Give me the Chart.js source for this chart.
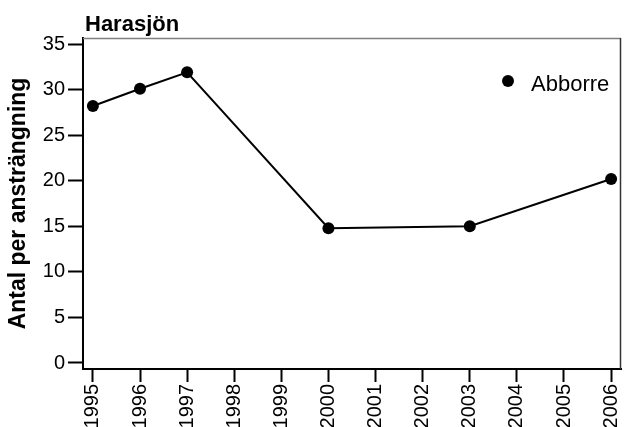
<!DOCTYPE html>
<html><head><meta charset="utf-8">
<script src="https://cdn.jsdelivr.net/npm/chart.js@4"></script>
<style>html,body{margin:0;padding:0;background:#fff;overflow:hidden}</style>
</head><body>
<div style="width:624px;height:427px"><canvas id="c" width="624" height="427"></canvas></div>
<script>
const chartTitle = 'Harasjön';
const yAxisTitle = 'Antal per ansträngning';
const seriesName = 'Abborre';
const years = [1995, 1996, 1997, 2000, 2003, 2006];
const values = [28.2, 30.1, 31.9, 14.8, 15.0, 20.2];
const xTickValues = [1995, 1996, 1997, 1998, 1999, 2000, 2001, 2002, 2003, 2004, 2005, 2006];
const yTickValues = [0, 5, 10, 15, 20, 25, 30, 35];

const FONT = "'Liberation Sans', Arial, sans-serif";

const decorPlugin = {
  id: 'decor',
  afterDraw(chart) {
    const ctx = chart.ctx, a = chart.chartArea;
    ctx.save();
    // top & right frame
    ctx.strokeStyle = '#808080';
    ctx.lineWidth = 1.5;
    ctx.beginPath();
    ctx.moveTo(a.left, a.top + 0.5);
    ctx.lineTo(a.right, a.top + 0.5);
    ctx.stroke();
    ctx.strokeStyle = '#333';
    ctx.beginPath();
    ctx.moveTo(a.right - 0.5, a.top);
    ctx.lineTo(a.right - 0.5, a.bottom);
    ctx.stroke();
    // title
    ctx.fillStyle = '#000';
    ctx.font = "bold 22px " + FONT;
    ctx.textAlign = 'left';
    ctx.textBaseline = 'alphabetic';
    ctx.fillText(chartTitle, a.left + 2, 31);
    // legend
    const ds = chart.data.datasets[0];
    const lx = a.right - 113, ly = a.top + 43;
    ctx.beginPath();
    ctx.arc(lx, ly, 6, 0, Math.PI * 2);
    ctx.fillStyle = ds.pointBackgroundColor;
    ctx.fill();
    ctx.fillStyle = '#000';
    ctx.font = "22px " + FONT;
    ctx.textBaseline = 'alphabetic';
    ctx.fillText(ds.label, lx + 23, ly + 10);
    ctx.restore();
  }
};

new Chart(document.getElementById('c'), {
  type: 'line',
  data: {
    datasets: [{
      label: seriesName,
      data: years.map((y, i) => ({ x: y, y: values[i] })),
      borderColor: '#000',
      borderWidth: 2,
      pointRadius: 6,
      pointBackgroundColor: '#000',
      pointBorderWidth: 0,
      pointHoverRadius: 6,
      tension: 0,
      clip: false
    }]
  },
  options: {
    responsive: false,
    animation: false,
    devicePixelRatio: 1,
    layout: { autoPadding: false, padding: { top: 38, right: 3, left: 0, bottom: 0 } },
    plugins: { legend: { display: false }, title: { display: false }, tooltip: { enabled: false } },
    scales: {
      x: {
        type: 'linear',
        min: 1994.79,
        max: 2006.21,
        afterBuildTicks: s => { s.ticks = xTickValues.map(v => ({ value: v })); },
        afterFit: s => { s.height = 58; s.paddingLeft = 0; s.paddingRight = 0; },
        ticks: {
          autoSkip: false,
          maxRotation: 90,
          minRotation: 90,
          padding: 2,
          color: '#000',
          font: { family: FONT, size: 20 },
          callback: v => String(v)
        },
        grid: { drawOnChartArea: false, tickLength: 13, tickWidth: 2, tickColor: '#000' },
        border: { color: '#000', width: 2 }
      },
      y: {
        type: 'linear',
        min: -0.66,
        max: 35.67,
        afterBuildTicks: s => { s.ticks = yTickValues.map(v => ({ value: v })); },
        afterFit: s => { s.width = 83; s.paddingTop = 0; s.paddingBottom = 0; },
        ticks: {
          padding: 3,
          color: '#000',
          font: { family: FONT, size: 20 },
          callback: v => String(v)
        },
        grid: { drawOnChartArea: false, tickLength: 15, tickWidth: 2, tickColor: '#000' },
        border: { color: '#000', width: 2 },
        title: {
          display: true,
          text: yAxisTitle,
          color: '#000',
          font: { family: FONT, size: 23, weight: 'bold' },
          padding: { top: 5, bottom: 0 }
        }
      }
    }
  },
  plugins: [decorPlugin]
});
</script>
</body></html>
